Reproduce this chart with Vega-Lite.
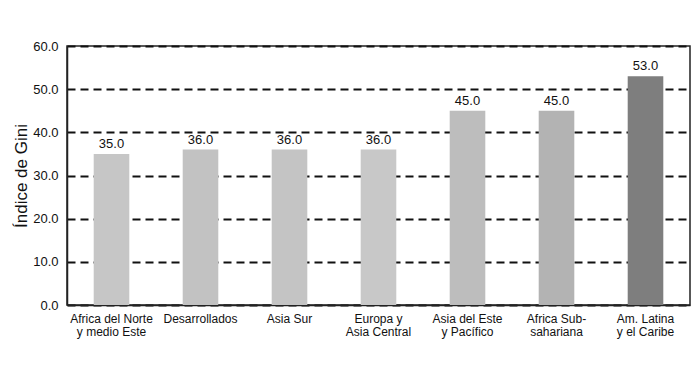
{
  "$schema": "https://vega.github.io/schema/vega-lite/v6.json",
  "width": 623,
  "height": 259,
  "autosize": {"type": "none"},
  "padding": {"left": 67, "top": 46, "right": 9, "bottom": 76},
  "background": "white",
  "config": {
    "font": "Liberation Sans",
    "view": {"stroke": "#222222", "strokeWidth": 1.5}
  },
  "data": {
    "values": [
      {"region": "Africa del Norte|y medio Este", "gini": 35.0},
      {"region": "Desarrollados", "gini": 36.0},
      {"region": "Asia Sur", "gini": 36.0},
      {"region": "Europa y|Asia Central", "gini": 36.0},
      {"region": "Asia del Este|y Pacífico", "gini": 45.0},
      {"region": "Africa Sub-|sahariana", "gini": 45.0},
      {"region": "Am. Latina|y el Caribe", "gini": 53.0}
    ]
  },
  "encoding": {
    "x": {
      "field": "region",
      "type": "nominal",
      "sort": null,
      "scale": {"paddingInner": 0.6, "paddingOuter": 0.3},
      "axis": {
        "title": null,
        "labelAngle": 0,
        "labelExpr": "split(datum.label, '|')",
        "labelFontSize": 12,
        "labelColor": "#111111",
        "labelLineHeight": 13,
        "labelPadding": 8,
        "ticks": false,
        "domainColor": "#222222",
        "domainWidth": 1.5
      }
    },
    "y": {
      "field": "gini",
      "type": "quantitative",
      "scale": {"domain": [0, 60], "nice": false},
      "axis": {
        "title": "Índice de Gini",
        "titleFontSize": 17,
        "titleFontWeight": "normal",
        "titleColor": "#111111",
        "titlePadding": 2,
        "values": [0, 10, 20, 30, 40, 50, 60],
        "format": ".1f",
        "labelFontSize": 13,
        "labelColor": "#111111",
        "labelPadding": 9,
        "ticks": false,
        "domainColor": "#222222",
        "domainWidth": 1.5,
        "grid": true,
        "gridColor": "#111111",
        "gridWidth": 2,
        "gridDash": [8, 5]
      }
    }
  },
  "layer": [
    {
      "mark": {"type": "bar"},
      "encoding": {
        "color": {
          "field": "region",
          "type": "nominal",
          "sort": null,
          "legend": null,
          "scale": {
            "range": ["#c6c6c6", "#c2c2c2", "#c4c4c4", "#c8c8c8", "#bdbdbd", "#b3b3b3", "#7e7e7e"]
          }
        }
      }
    },
    {
      "mark": {"type": "text", "baseline": "bottom", "dy": -3, "fontSize": 13, "color": "#111111"},
      "encoding": {
        "text": {"field": "gini", "type": "quantitative", "format": ".1f"}
      }
    }
  ]
}
